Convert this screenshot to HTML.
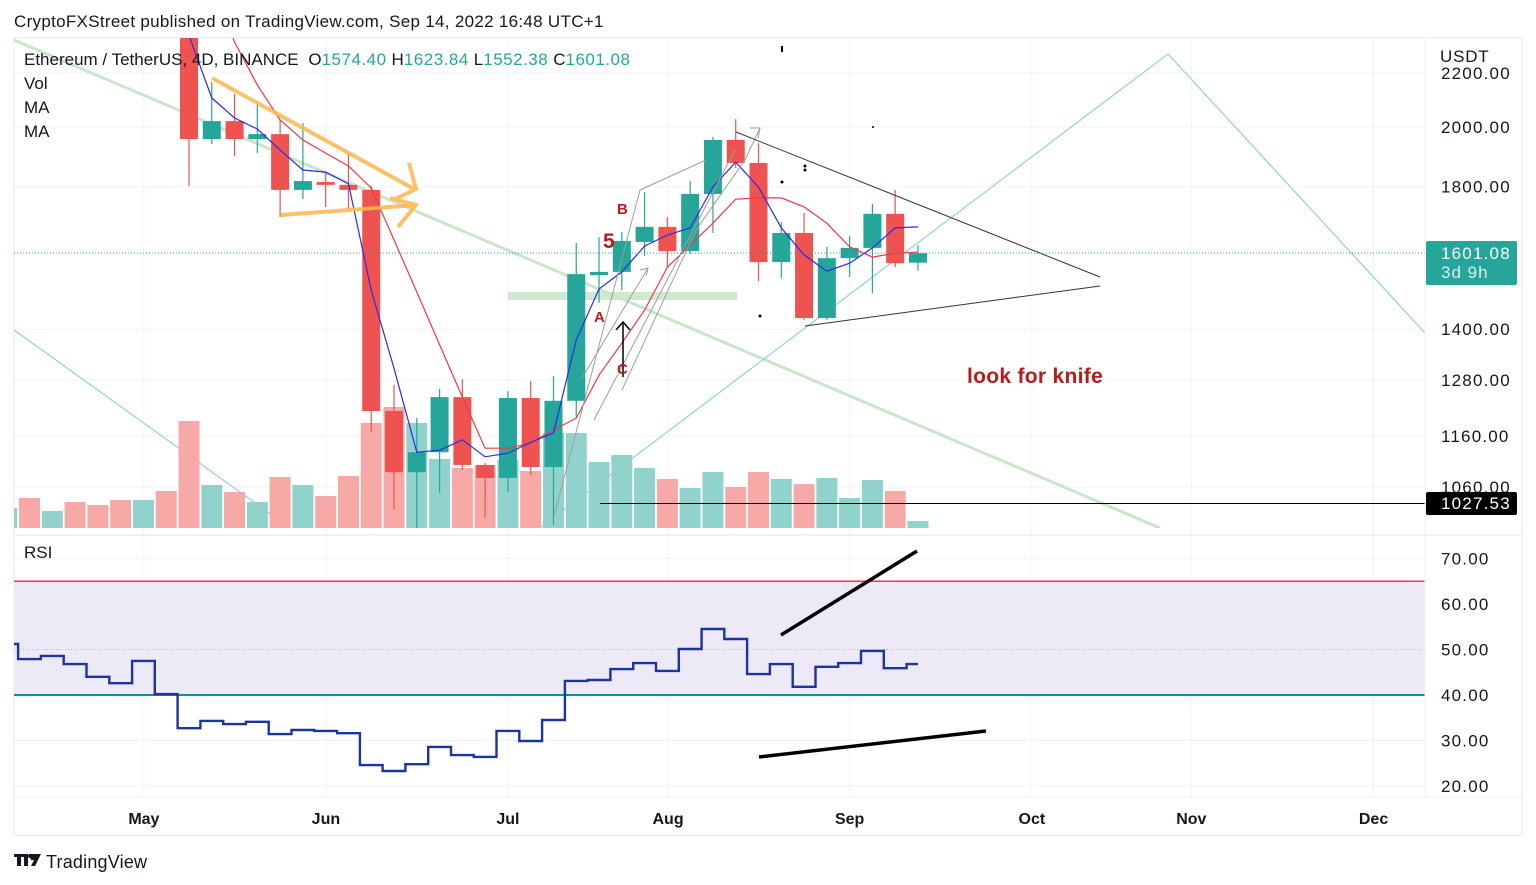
<!DOCTYPE html>
<html><head><meta charset="utf-8">
<style>
html,body{margin:0;padding:0;background:#fff;}
svg{display:block;font-family:"Liberation Sans",sans-serif;}
</style></head>
<body>
<svg id="chart" width="1536" height="885" viewBox="0 0 1536 885" xmlns="http://www.w3.org/2000/svg">
<defs>
<clipPath id="pclip"><rect x="14" y="38" width="1411" height="490"/></clipPath>
<clipPath id="rclip"><rect x="14" y="537" width="1411" height="260"/></clipPath>
</defs>
<rect width="1536" height="885" fill="#fff"/>
<text x="14" y="27" font-size="17" letter-spacing="0.3" fill="#131722">CryptoFXStreet published on TradingView.com, Sep 14, 2022 16:48 UTC+1</text>
<rect x="14" y="37.5" width="1508" height="798" fill="none" stroke="#e8eaef" stroke-width="1"/>
<g id="grid"></g>
<rect id="rsiband" x="14" width="1411" fill="#ede9f7"/>
<g id="drawBack" clip-path="url(#pclip)">
  <line x1="14" y1="40" x2="1160" y2="528" stroke="#c8e6c9" stroke-width="3"/>
  <line x1="14" y1="330" x2="290" y2="528" stroke="#8fd3d6" stroke-width="1.2"/>
  <polyline points="540,528 1168,54 1425,333" fill="none" stroke="#8fd3d6" stroke-width="1.2"/>
  <rect x="508" y="292" width="229" height="8" fill="#c8e6c9" opacity="0.85"/>
</g>
<g id="vol" clip-path="url(#pclip)"></g>
<g id="candles" clip-path="url(#pclip)"></g>
<g id="mas" clip-path="url(#pclip)"></g>
<g id="drawFront" clip-path="url(#pclip)">
  <g stroke="#ffb74d" stroke-width="4" fill="none" opacity="0.85">
    <polyline points="212,78 416,190"/><polyline points="409,163 416,189 395,199"/>
    <polyline points="281,215 416,205"/><polyline points="390,198 416,205 398,227"/>
  </g>
  <g stroke="#9e9e9e" stroke-width="1" fill="none">
    <polyline points="554,516 640,190 706,160"/>
    <polyline points="582,378 648,268"/><polyline points="640,270 648,268 646,276"/>
    <polyline points="622,390 696,230 745,160 760,128"/><polyline points="750,128 760,128 758,138"/>
    <line x1="594" y1="420" x2="735" y2="150"/>
  </g>
  <line x1="736" y1="132" x2="1100" y2="277" stroke="#333" stroke-width="1"/>
  <line x1="805" y1="326" x2="1100" y2="286" stroke="#333" stroke-width="1"/>
  <line x1="600" y1="503.5" x2="1425" y2="503.5" stroke="#000" stroke-width="1"/>
  <line x1="623" y1="377" x2="623" y2="322" stroke="#000" stroke-width="1.5"/>
  <polyline points="616,330 623,322 630,330" stroke="#000" stroke-width="1.5" fill="none"/>
  <g fill="#b71c1c" font-weight="bold">
    <text x="617" y="214" font-size="15">B</text>
    <text x="603" y="248" font-size="21">5</text>
    <text x="594" y="322" font-size="15">A</text>
    <text x="617" y="374" font-size="15">C</text>
  </g>
  <circle cx="782" cy="182" r="1.5" fill="#000"/><circle cx="805" cy="166" r="1.5" fill="#000"/><circle cx="805" cy="170" r="1.5" fill="#000"/><circle cx="760" cy="316" r="1.5" fill="#000"/><circle cx="873" cy="127" r="1" fill="#000"/>
  <line x1="782" y1="46" x2="782" y2="52" stroke="#000" stroke-width="2"/>
</g>
<text x="967" y="383" font-size="21" font-weight="bold" letter-spacing="0.3" fill="#b71c1c">look for knife</text>
<line id="curline" x1="14" x2="1425" stroke="#26a69a" stroke-width="1" stroke-dasharray="1,2"/>
<g id="rsi" clip-path="url(#rclip)"></g>
<line x1="781" y1="635" x2="917" y2="551" stroke="#000" stroke-width="3.5"/>
<line x1="759" y1="757" x2="986" y2="731" stroke="#000" stroke-width="3.5"/>
<line x1="14" y1="535" x2="1522" y2="535" stroke="#e0e3eb" stroke-width="1"/>
<line x1="1425" y1="37" x2="1425" y2="797" stroke="#eef0f3" stroke-width="1"/>
<line x1="14" y1="797" x2="1522" y2="797" stroke="#eef0f3" stroke-width="1"/>
<g id="axes"></g>
<rect x="1428" y="40" width="90" height="26" fill="#fff"/>
<text x="1440" y="62" font-size="17" letter-spacing="0.8" fill="#131722">USDT</text>
<g font-size="17" fill="#131722">
  <text x="24" y="65">Ethereum / TetherUS, 4D, BINANCE <tspan dx="5">O</tspan><tspan fill="#26a69a" letter-spacing="0.5">1574.40</tspan><tspan dx="5">H</tspan><tspan fill="#26a69a" letter-spacing="0.5">1623.84</tspan><tspan dx="5">L</tspan><tspan fill="#26a69a" letter-spacing="0.5">1552.38</tspan><tspan dx="5">C</tspan><tspan fill="#26a69a" letter-spacing="0.5">1601.08</tspan></text>
  <text x="24" y="89">Vol</text>
  <text x="24" y="113">MA</text>
  <text x="24" y="137">MA</text>
  <text x="24" y="558">RSI</text>
</g>
<g>
  <rect x="1426" y="241" width="91" height="44" rx="2" fill="#26a69a"/>
  <text x="1441" y="259" font-size="17" letter-spacing="1.2" fill="#fff">1601.08</text>
  <text x="1441" y="278" font-size="17" letter-spacing="1" fill="#d9f2ef">3d 9h</text>
</g>
<g>
  <rect x="1426" y="492" width="91" height="23" rx="2" fill="#000"/>
  <text x="1441" y="509" font-size="17" letter-spacing="1.2" fill="#fff">1027.53</text>
</g>
<g>
  <path d="M14 854h10v3h-3v9h-4v-9h-3z M24 854h4v12h-4z" fill="#131722"/>
  <path d="M29 854h12l-6 12h-4l3-6h-3z" fill="#131722"/>
  <circle cx="30" cy="856" r="2" fill="#131722"/>
  <text x="46" y="868" font-size="18" letter-spacing="0.2" fill="#131722">TradingView</text>
</g>
<script>
// ---- data ----
const candleIndex0X = 189;
const opens  = [2415,1958,2021,1958,1975,1790,1815,1806,1790,1212,1088,1127,1242,1102,1077,1240,1098,1234,1540,1549,1633,1677,1607,1777,1955,1877,1576,1659,1428,1587,1616,1716,1574.40];
const closes = [1958,2021,1958,1975,1790,1818,1806,1790,1212,1088,1127,1242,1102,1077,1240,1098,1234,1543,1549,1636,1677,1607,1777,1955,1877,1576,1659,1428,1587,1616,1716,1573,1601.08];
const highs  = [2458,2165,2120,2086,2025,2014,1847,1914,1802,1269,1197,1260,1282,1106,1255,1278,1289,1630,1647,1662,1783,1706,1818,1965,2028,1944,1691,1719,1619,1650,1746,1790,1623.84];
const lows   = [1802,1941,1900,1910,1706,1761,1737,1728,1168,1018,983,1049,1092,1004,1051,1083,991,1197,1466,1500,1593,1562,1598,1659,1860,1524,1532,1423,1423,1535,1492,1562,1552.38];
// volume: indices -8..32
const volumes = [20,30,17,26,23,28,28,37,107,43,36,26,51,43,32,52,105,121,105,69,60,63,68,57,95,95,66,73,60,49,40,56,41,56,49,44,50,30,48,37,7];
const volUp   = [1,0,1,0,0,0,1,0,0,1,0,1,0,1,0,0,0,0,1,1,0,0,1,0,1,1,1,1,1,0,1,1,0,0,1,0,1,1,1,0,1];
const maFast = [2350,2105,2032,1993,1920,1854,1847,1809,1500,1307,1127,1131,1152,1118,1125,1147,1166,1374,1503,1549,1621,1653,1674,1799,1880,1799,1674,1596,1551,1573,1616,1674,1677];
const maSlow = [null,2600,2323,2154,2025,1955,1910,1867,1796,1639,1495,1362,1242,1135,1135,1145,1172,1197,1291,1366,1448,1562,1624,1688,1761,1765,1765,1737,1688,1619,1590,1601,1604];
// rsi: indices -8..32
const rsiValues = [51.2,47.9,48.6,46.8,44.0,42.6,47.5,40.2,32.7,34.3,33.6,34.1,31.4,32.3,32.1,31.6,24.6,23.3,24.8,28.6,26.8,26.4,32.1,29.9,34.5,43.1,43.3,45.7,47.0,45.3,50.1,54.5,52.3,44.6,46.8,41.8,46.2,47.0,49.7,45.9,46.8];
const priceTicks = [2200,2000,1800,1400,1280,1160,1060];
const rsiTicks = [70,60,50,40,30,20];
const rsiUpper = 65, rsiLower = 40, rsiMid = 50;
const monthLabels = ["May","Jun","Jul","Aug","Sep","Oct","Nov","Dec"];
const monthIndex = [-1.98,6.01,14,21.03,29,37,44,52];
const lastPrice = 1601.08;

// ---- scales ----
const step = 22.78;
const xOf = i => candleIndex0X + i*step;
const yP = p => 127 + Math.log(2000/p)*567;
const yR = v => 695 - (v-40)*4.55;
const yV = v => 528 - v;
const NS = "http://www.w3.org/2000/svg";
function mk(tag, attrs, parent){const e=document.createElementNS(NS,tag);for(const k in attrs)e.setAttribute(k,attrs[k]);parent.appendChild(e);return e;}

const grid = document.getElementById('grid');
priceTicks.forEach(p=>{const l=mk('line',{x1:14,x2:1425,y1:yP(p),y2:yP(p),stroke:'#f2f3f5'},grid);

});
rsiTicks.forEach(v=>{const l=mk('line',{x1:14,x2:1425,y1:yR(v),y2:yR(v),stroke:'#f2f3f5'},grid);

});
monthIndex.forEach(m=>{const l=mk('line',{x1:xOf(m),x2:xOf(m),y1:38,y2:797,stroke:'#f2f3f5'},grid);

});

const band = document.getElementById('rsiband');
band.setAttribute('y', yR(rsiUpper)); band.setAttribute('height', yR(rsiLower)-yR(rsiUpper));
const cl = document.getElementById('curline');
cl.setAttribute('y1', yP(lastPrice)); cl.setAttribute('y2', yP(lastPrice));

// volume
const vg = document.getElementById('vol');
volumes.forEach((v,k)=>{const i=k-8;const r=mk('rect',{x:xOf(i)-10.5,y:yV(v),width:21,height:v,fill:volUp[k]?'#92d2cc':'#f7a9a7'},vg);

});

// candles
const cg = document.getElementById('candles');
opens.forEach((o,i)=>{const c=closes[i];const up=c>=o;const col=up?'#26a69a':'#ef5350';const x=xOf(i);
 const g=mk('g',{},cg);
 
 
 mk('line',{x1:x,x2:x,y1:yP(highs[i]),y2:yP(lows[i]),stroke:col,'stroke-width':1.2},g);
 const t=yP(Math.max(o,c)),b=yP(Math.min(o,c));
 mk('rect',{x:x-9,y:t,width:18,height:Math.max(b-t,2),fill:col},g);});

// MAs
const mg = document.getElementById('mas');
function pl(arr,col,name){let pts=[];arr.forEach((v,i)=>{if(v!=null)pts.push(xOf(i).toFixed(1)+','+yP(v).toFixed(1));});
 const e=mk('polyline',{points:pts.join(' '),fill:'none',stroke:col,'stroke-width':1.2},mg);
 
 }
pl(maSlow,'#f23645','ma-slow-line');
pl(maFast,'#2a2ae8','ma-fast-line');

// RSI
const rg = document.getElementById('rsi');
const l1=mk('line',{x1:14,x2:1425,y1:yR(rsiUpper),y2:yR(rsiUpper),stroke:'#f23645','stroke-width':1.5},rg);


const l2=mk('line',{x1:14,x2:1425,y1:yR(rsiLower),y2:yR(rsiLower),stroke:'#089981','stroke-width':2},rg);


const l3=mk('line',{x1:14,x2:1425,y1:yR(rsiMid),y2:yR(rsiMid),stroke:'#b2b5be','stroke-width':1,'stroke-dasharray':'1,2'},rg);


let pts=[];rsiValues.forEach((v,k)=>{const i=k-8;const last=k===rsiValues.length-1;const x0=xOf(i)-step/2,x1=last?xOf(i):xOf(i)+step/2;pts.push(x0.toFixed(1)+','+yR(v).toFixed(1));pts.push(x1.toFixed(1)+','+yR(v).toFixed(1));});
const rl=mk('polyline',{points:pts.join(' '),fill:'none',stroke:'#1b35a0','stroke-width':2.4},rg);



// axes labels
const ax = document.getElementById('axes');
priceTicks.forEach(p=>{const t=mk('text',{x:1441,y:yP(p)+6,'font-size':17,'letter-spacing':1.2,fill:'#131722'},ax);t.textContent=p.toFixed(2);

});
rsiTicks.forEach(v=>{const t=mk('text',{x:1441,y:yR(v)+6,'font-size':17,'letter-spacing':1.2,fill:'#131722'},ax);t.textContent=v.toFixed(2);

});
monthLabels.forEach((m,k)=>{const t=mk('text',{x:xOf(monthIndex[k]),y:824,'font-size':16,'font-weight':'bold','text-anchor':'middle',fill:'#131722'},ax);t.textContent=m;

});
</script>
</svg>
</body></html>
